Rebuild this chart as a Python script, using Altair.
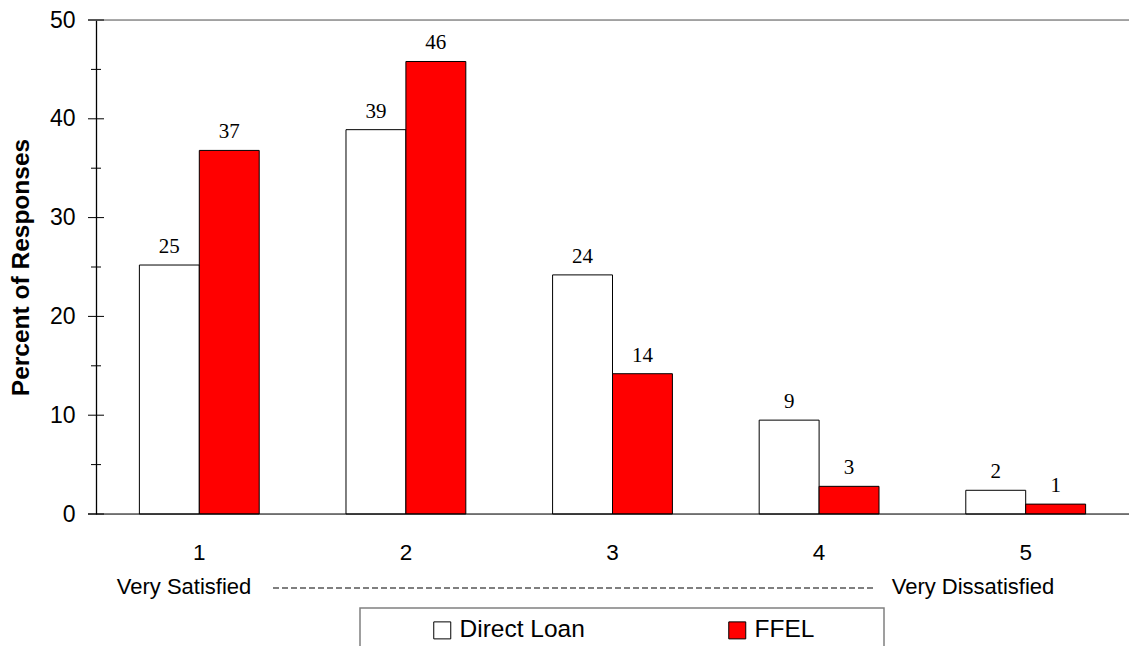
import altair as alt
import pandas as pd

ratings = ["1", "2", "3", "4", "5"]
programs = ["Direct Loan", "FFEL"]
direct_loan = [25.2, 38.9, 24.2, 9.5, 2.4]
ffel = [36.8, 45.8, 14.2, 2.8, 1.0]
direct_loan_labels = ["25", "39", "24", "9", "2"]
ffel_labels = ["37", "46", "14", "3", "1"]
scale_ends = ["Very Satisfied", "Very Dissatisfied"]
major_ticks = [0, 10, 20, 30, 40, 50]
minor_ticks = [5, 15, 25, 35, 45]
y_title = "Percent of Responses"

rows = []
for r, v, l in zip(ratings, direct_loan, direct_loan_labels):
    rows.append({"rating": r, "program": programs[0], "value": v, "label": l})
for r, v, l in zip(ratings, ffel, ffel_labels):
    rows.append({"rating": r, "program": programs[1], "value": v, "label": l})
df = pd.DataFrame(rows)

W, H = 1033, 494
SANS = "Liberation Sans, Arial, sans-serif"
SERIF = "Liberation Serif, Times New Roman, serif"

x_enc = alt.X("rating:N", sort=ratings, title=None,
              scale=alt.Scale(paddingInner=0.42, paddingOuter=0.21),
              axis=alt.Axis(labelAngle=0, labelFontSize=22.5, labelFont=SANS, labelColor="black",
                            labelPadding=27, ticks=False, domain=False))
xo_enc = alt.XOffset("program:N", sort=programs, scale=alt.Scale(paddingInner=0, paddingOuter=0))
y_scale = alt.Scale(domain=[0, 50], nice=False)
y_axis = alt.Axis(values=major_ticks, ticks=False, grid=False, domain=True, domainColor="black",
                  domainWidth=1.3,
                  labelFontSize=23, labelFont=SANS, labelColor="black", labelPadding=21,
                  titleFont=SANS, titleFontSize=24.5, titleFontWeight="bold", titleColor="black",
                  titlePadding=16)


def yq(field):
    return alt.Y(field, type="quantitative", scale=y_scale, title=y_title, axis=y_axis)


bars = alt.Chart(df).mark_bar(stroke="black", strokeWidth=1).encode(
    x=x_enc,
    xOffset=xo_enc,
    y=yq("value"),
    color=alt.Color("program:N", sort=programs,
                    scale=alt.Scale(domain=programs, range=["white", "#ff0000"]),
                    legend=alt.Legend(title=None, orient="none", direction="horizontal",
                                      legendX=334, legendY=598, symbolType="square", symbolSize=289,
                                      symbolStrokeColor="black", symbolStrokeWidth=1,
                                      labelFontSize=24.5, labelFont=SANS, labelColor="black",
                                      labelOffset=5, columnPadding=140, padding=0)),
)

labels = alt.Chart(df).mark_text(font=SERIF, fontSize=21, color="black", baseline="alphabetic", dy=-12).encode(
    x=x_enc,
    xOffset=xo_enc,
    y=yq("value"),
    text="label:N",
)

tick_df = pd.DataFrame({"value": major_ticks})
minor_df = pd.DataFrame({"value": minor_ticks})
major = alt.Chart(tick_df).mark_rule(color="black", strokeWidth=1).encode(
    y=yq("value"), x=alt.value(-8), x2=alt.value(8))
minor = alt.Chart(minor_df).mark_rule(color="black", strokeWidth=1).encode(
    y=yq("value"), x=alt.value(-5), x2=alt.value(5))

top_line = alt.Chart(pd.DataFrame({"value": [50]})).mark_rule(color="#8c8c8c", strokeWidth=1.5).encode(
    y=yq("value"), x=alt.value(-8), x2=alt.value(W))
base_line = alt.Chart(pd.DataFrame({"value": [0]})).mark_rule(color="black", strokeWidth=1).encode(
    y=yq("value"), x=alt.value(-8), x2=alt.value(W))

one = pd.DataFrame({"a": [0]})
left_txt = alt.Chart(one).mark_text(font=SANS, fontSize=22, color="black", align="center",
                                    baseline="alphabetic", text=scale_ends[0]).encode(
    x=alt.value(88), y=alt.value(574))
right_txt = alt.Chart(one).mark_text(font=SANS, fontSize=22, color="black", align="center",
                                     baseline="alphabetic", text=scale_ends[1]).encode(
    x=alt.value(877), y=alt.value(574))
dash = alt.Chart(one).mark_rule(color="black", strokeWidth=1.2, strokeDash=[6, 3]).encode(
    x=alt.value(177), x2=alt.value(780), y=alt.value(568))
legend_box = alt.Chart(one).mark_rect(fill="white", stroke="#808080", strokeWidth=1.5).encode(
    x=alt.value(264), x2=alt.value(788), y=alt.value(588), y2=alt.value(660))

chart = alt.layer(
    legend_box, top_line, bars, labels, major, minor, base_line, left_txt, right_txt, dash
).properties(
    width=W, height=H,
    autosize=alt.AutoSizeParams(type="none"),
    padding={"left": 96, "top": 20, "right": 0, "bottom": 132},
).configure_view(stroke=None).configure(background="white")

chart.save("out.html", embed_options={"renderer": "svg", "actions": False})
